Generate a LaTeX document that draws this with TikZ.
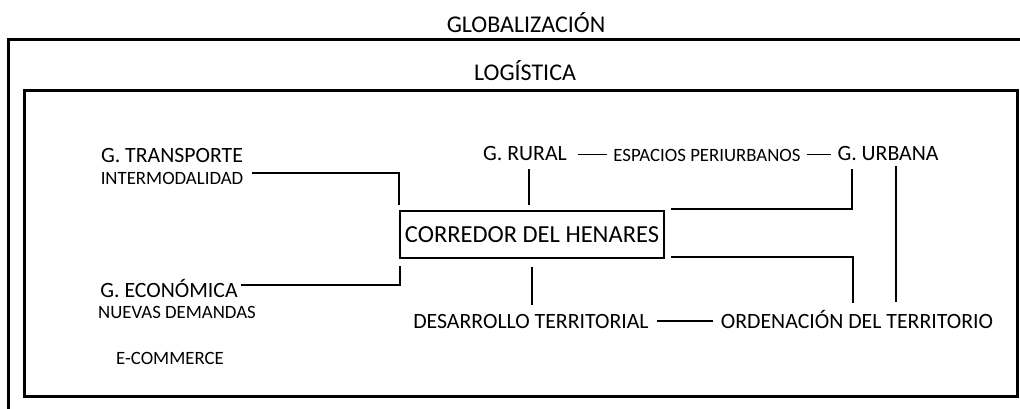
\documentclass[tikz,border=0pt]{standalone}
\usepackage{fontspec}
\setmainfont{Carlito}
\begin{document}
\begin{tikzpicture}[x=1pt,y=-1pt,
  big/.style={font=\fontsize{24}{28}\selectfont, inner sep=0pt, anchor=base},
  mid/.style={font=\fontsize{21.8}{26}\selectfont, inner sep=0pt, anchor=base},
  small/.style={font=\fontsize{18.8}{22}\selectfont, inner sep=0pt, anchor=base},
  frame/.style={line width=3pt},
  conn/.style={line width=2.8pt},
  thinconn/.style={line width=1.3pt},
  hair/.style={line width=1.5pt}]
\useasboundingbox (0,0) rectangle (1020,408);
\fill[white] (0,0) rectangle (1020,408);
% frames
\draw[frame] (8,415) -- (8,39) -- (1025,39);
\draw[frame] (24,90) rectangle (1017,396);
% titles
\node[big] (glob) at (526,32) {GLOBALIZACIÓN};
\node[big] (log) at (525,80) {LOGÍSTICA};
% center box
\node[draw, line width=2.6pt, minimum width=264pt, minimum height=47pt, inner sep=0pt,
      font=\fontsize{24.5}{28}\selectfont] (cor) at (532,234.5) {CORREDOR DEL HENARES};
% left labels
\node[mid] (gtrans) at (172,162) {G. TRANSPORTE};
\node[small] (inter) at (172,184) {INTERMODALIDAD};
\node[mid] (geco) at (169,297) {G. ECONÓMICA};
\node[small] (nuev) at (177,318) {NUEVAS DEMANDAS};
\node[small] (ecom) at (170,364) {E-COMMERCE};
% top labels
\node[mid] (rural) at (525,160) {G. RURAL};
\node[small] (esp) at (707,161) {ESPACIOS PERIURBANOS};
\node[mid] (urb) at (888,160) {G. URBANA};
% bottom labels
\node[mid] (des) at (531,328) {DESARROLLO TERRITORIAL};
\node[mid] (ord) at (857,328) {ORDENACIÓN DEL TERRITORIO};
% coordinates
\coordinate (c1) at (252,173);
\coordinate (c1b) at (399,205);
\coordinate (c2) at (241,285);
\coordinate (c2b) at (400,266);
\coordinate (r1) at (529,169);
\coordinate (r2) at (529,205);
\coordinate (d1) at (532,267);
\coordinate (d2) at (532,305);
\coordinate (u1) at (671,209);
\coordinate (u2) at (852,169);
\coordinate (l1) at (671,257);
\coordinate (l2) at (853,303);
\coordinate (t1) at (896,166);
\coordinate (t2) at (896,302);
% connectors
\draw[conn] (c1) -| (c1b);
\draw[conn] (c2) -| (c2b);
\draw[conn] (r1) -- (r2);
\draw[conn] (d1) -- (d2);
\draw[conn] (u1) -| (u2);
\draw[conn] (l1) -| (l2);
\draw[thinconn] (t1) -- (t2);
\draw[hair] ([xshift=-6pt,yshift=6.5pt]esp.base west) -- ++(-29,0);
\draw[hair] ([xshift=6pt,yshift=6.5pt]esp.base east) -- ++(24,0);
\draw[conn] ([xshift=8pt,yshift=7pt]des.base east) -- ([xshift=-8pt,yshift=7pt]ord.base west);
\end{tikzpicture}
\end{document}
